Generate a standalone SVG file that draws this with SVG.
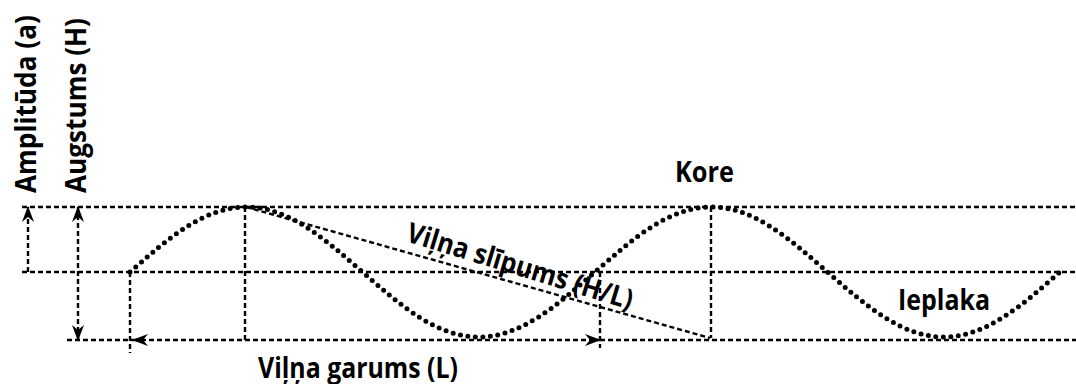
<svg xmlns="http://www.w3.org/2000/svg" width="1076" height="384" viewBox="0 0 1076 384">
<style>
.dash{fill:none;stroke:#000;stroke-width:2.4;stroke-dasharray:5 3}
.wave{fill:none;stroke:#000;stroke-width:5;stroke-linecap:round;stroke-dasharray:0 7.5}
.lbl{font-family:"Open Sans","Liberation Sans",sans-serif;font-weight:bold;font-size:28px;fill:#000}
</style>
<defs>
<marker id="ah" viewBox="0 0 16 12" refX="15" refY="6" markerWidth="16" markerHeight="12" markerUnits="userSpaceOnUse" orient="auto-start-reverse">
<path d="M0,0 L16,6 L0,12 L5,6 Z" fill="#000"/>
</marker>
</defs>
<g id="connectors">
<line class="dash" x1="22" y1="207" x2="1076" y2="207"/>
<line class="dash" x1="22" y1="272" x2="1076" y2="272"/>
<line class="dash" x1="67" y1="340" x2="133" y2="340"/>
<line class="dash" x1="600" y1="340" x2="1076" y2="340"/>
<line class="dash" x1="130" y1="272" x2="130" y2="353"/>
<line class="dash" x1="245" y1="207" x2="245" y2="340"/>
<line class="dash" x1="600" y1="272" x2="600" y2="348"/>
<line class="dash" x1="711" y1="207" x2="711" y2="338"/>
<line class="dash" x1="246" y1="207" x2="710" y2="338"/>
<path class="dash" d="M28,272 L28,207" marker-end="url(#ah)"/>
<path class="dash" d="M78,340 L78,207" marker-start="url(#ah)" marker-end="url(#ah)"/>
<path class="dash" d="M133,340 L600,340" marker-start="url(#ah)" marker-end="url(#ah)"/>
</g>
<g id="wave">
<path class="wave" d="M130,272 C168.86,237.87 204.23,207 246.25,207 C288.27,207 323.64,237.87 362.5,272 C401.36,306.13 436.73,337 478.75,337 C520.77,337 556.14,306.13 595,272 C633.86,237.87 669.23,207 711.25,207 C753.27,207 788.64,237.87 827.5,272 C866.36,306.13 901.73,337 943.75,337 C985.77,337 1021.14,306.13 1060,272"/>
</g>
<g id="amplitude"><text class="lbl" transform="translate(36,193) rotate(-90)" textLength="178" lengthAdjust="spacingAndGlyphs">Amplitūda (a)</text></g>
<g id="height"><text class="lbl" transform="translate(86,193) rotate(-90)" textLength="175" lengthAdjust="spacingAndGlyphs">Augstums (H)</text></g>
<g id="crest"><text class="lbl" x="675" y="182" textLength="59" lengthAdjust="spacingAndGlyphs">Kore</text></g>
<g id="trough"><text class="lbl" x="898" y="310" textLength="92" lengthAdjust="spacingAndGlyphs">Ieplaka</text></g>
<g id="steepness"><text class="lbl" transform="translate(405,241) rotate(17)" textLength="235" lengthAdjust="spacingAndGlyphs">Viļņa slīpums (H/L)</text></g>
<g id="wavelength"><text class="lbl" x="258" y="378" textLength="200" lengthAdjust="spacingAndGlyphs">Viļņa garums (L)</text></g>
</svg>
